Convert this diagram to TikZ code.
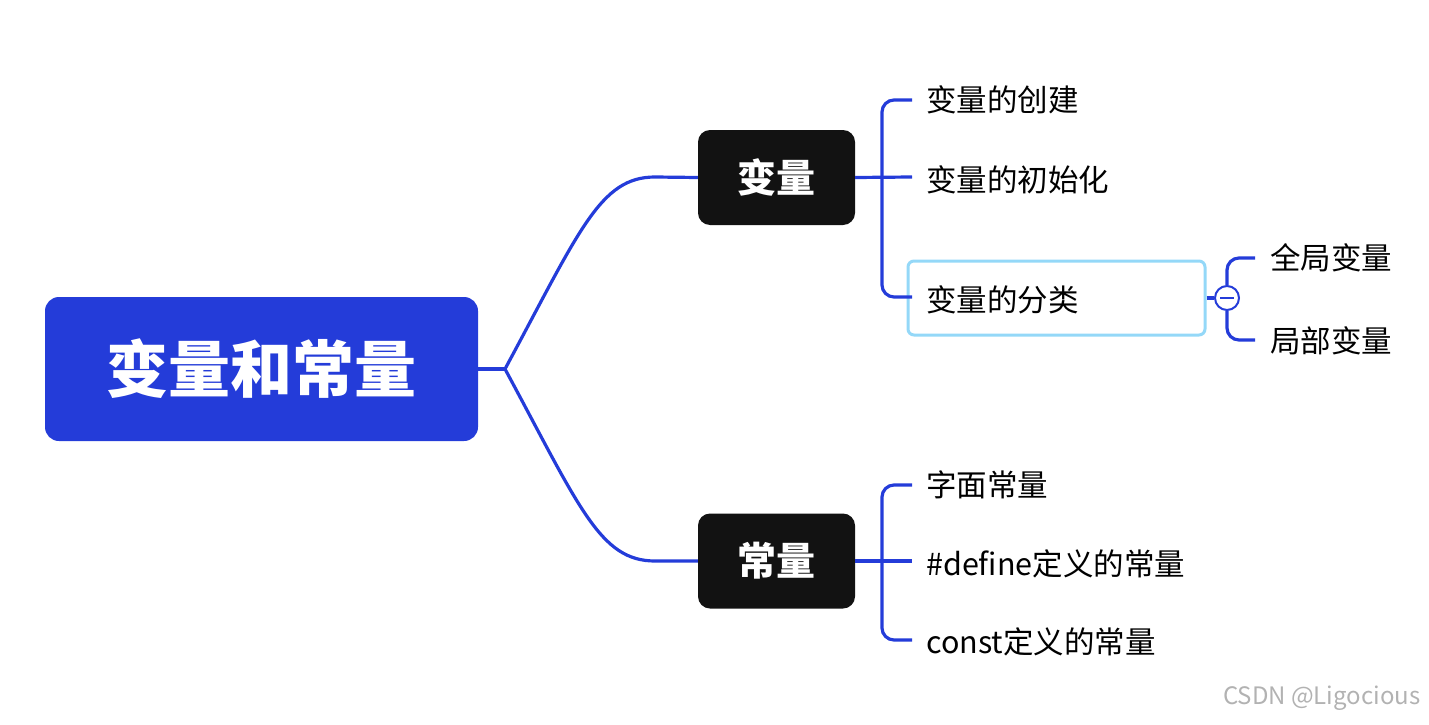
\documentclass[tikz,border=0pt]{standalone}
\usepackage{fontspec}
\setmainfont{Noto Sans CJK SC}
\begin{document}
\begin{tikzpicture}[x=1pt,y=-1pt,
  ln/.style={draw=myblue,line width=3.2pt},
  leaf/.style={anchor=west,inner sep=0pt,font=\fontsize{30.5}{33}\selectfont},
  sub/.style={fill=black!93,rounded corners=12pt,minimum width=157pt,minimum height=95pt,text=white,font=\fontsize{39}{41}\selectfont\bfseries}]
\definecolor{myblue}{HTML}{243CD9}
\definecolor{lb}{HTML}{94D8F8}
\useasboundingbox (0,0) rectangle (1429,725);
\node[fill=myblue,rounded corners=14pt,minimum width=433pt,minimum height=144pt,text=white,font=\fontsize{62}{64}\selectfont\bfseries] (root) at (261.5,369) {变量和常量};
\node[sub] (bl) at (776.5,177.5) {变量};
\node[sub] (cl) at (776.5,561) {常量};
\coordinate (j) at (505,369);
\draw[ln] (root.east) -- (j);
\draw[ln] (j) .. controls (580,230) and (600,177) .. (655,177) -- (bl.west);
\draw[ln] (j) .. controls (580,508) and (600,561) .. (655,561) -- (cl.west);
% bianliang leaves
\node[leaf] (a1) at (926,100) {变量的创建};
\node[leaf] (a2) at (926,180) {变量的初始化};
\node[draw=lb,line width=3pt,rounded corners=6pt,minimum width=297pt,minimum height=74pt] (a3b) at (1056.5,298) {};
\node[leaf] (a3) at (926,300) {变量的分类};
\draw[ln] (bl.east) -- (912,177);
\draw[ln,rounded corners=12pt] (912,100) -- (882,100) -- (882,297) -- (912,297);
% sub-leaves
\node[circle,draw=myblue,fill=white,line width=2pt,minimum size=24pt,inner sep=0pt] (c) at (1227,298) {};
\draw[myblue,line width=2pt] (1220,298) -- (1234,298);
\draw[ln] (a3b.east) -- (c.west);
\draw[ln,rounded corners=12pt] (1255,258) -- (1227,258) -- (c.north);
\draw[ln,rounded corners=12pt] (1255,340) -- (1227,340) -- (c.south);
\node[leaf] (g1) at (1270,258) {全局变量};
\node[leaf] (g2) at (1270,341) {局部变量};
% changliang leaves
\node[leaf] (b1) at (926,485) {字面常量};
\node[leaf] (b2) at (926,564) {\#define定义的常量};
\node[leaf] (b3) at (926,642) {const定义的常量};
\draw[ln] (cl.east) -- (912,561);
\draw[ln,rounded corners=12pt] (912,485) -- (882,485) -- (882,640) -- (912,640);
\node[anchor=east,text=black!30,font=\fontsize{24}{26}\selectfont] (wm) at (1424,698) {CSDN @Ligocious};
\end{tikzpicture}
\end{document}
